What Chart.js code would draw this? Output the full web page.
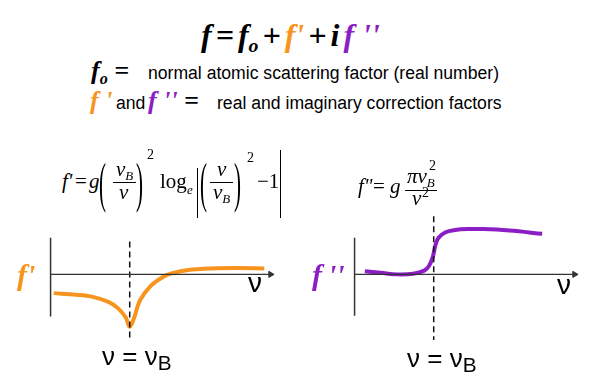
<!DOCTYPE html>
<html>
<head>
<meta charset="utf-8">
<script src="https://cdn.jsdelivr.net/npm/chart.js@4/dist/chart.umd.min.js"></script>
<style>
  body { margin: 0; width: 600px; height: 392px; background: #fff; position: relative; overflow: hidden; }
  .t { position: absolute; white-space: nowrap; line-height: 1; color: #000; }
  .serif { font-family: "Liberation Serif", "Times New Roman", serif; }
  .sans { font-family: "Liberation Sans", Arial, sans-serif; }
  .bi { font-weight: bold; font-style: italic; }
  .it { font-style: italic; }
  .hl { position: absolute; background: #000; }
  canvas { position: absolute; }
  .or { color: #F7941D; }
  .pu { color: #8B1EC4; }
</style>
</head>
<body>
<canvas id="fPrimeChart" width="287" height="160" style="left:6px;top:200px"></canvas>
<canvas id="fDoubleChart" width="287" height="160" style="left:310px;top:200px"></canvas>
<script>
// nu in units of the absorption edge nu_B, curve values in arbitrary units
var nuB = 1;
var fPrimeNu = [0.04, 0.32, 0.52, 0.73, 0.85, 0.95, 1.0, 1.05, 1.13, 1.26, 1.42, 1.54, 1.74, 2.03, 2.35, 2.70];
var fPrimeVal = [-2.0, -2.17, -2.37, -2.93, -3.6, -4.6, -5.6, -4.77, -2.77, -1.27, -0.27, 0.13, 0.47, 0.63, 0.67, 0.63];
var fDoubleNu = [0.13, 0.33, 0.54, 0.74, 0.88, 0.94, 0.99, 1.02, 1.06, 1.15, 1.27, 1.43, 1.63, 1.96, 2.37];
var fDoubleVal = [0.33, 0.17, 0, 0.07, 0.4, 0.9, 1.9, 3.07, 3.9, 4.5, 4.73, 4.83, 4.83, 4.67, 4.33];
var axisEndNu = 2.78;
var leftYAxis = [3.9, -4.5];
var rightYAxis = [3.9, -4.4];
var leftEdgeLine = [3.5, -7.0];
var rightEdgeLine = [6.2, -7.0];

function pts(xs, ys) {
  return xs.map(function (x, i) { return { x: x, y: ys[i] }; });
}

function makeChart(id, curveX, curveY, color, yAxis, edge) {
  var ctx = document.getElementById(id).getContext("2d");
  return new Chart(ctx, {
    type: "line",
    data: {
      datasets: [
        { data: [{ x: 0, y: yAxis[0] }, { x: 0, y: yAxis[1] }], borderColor: "#333", borderWidth: 1.5, tension: 0, clip: false },
        { data: [{ x: 0, y: 0 }, { x: axisEndNu, y: 0 }], borderColor: "#333", borderWidth: 1.2, tension: 0, clip: false },
        { data: [{ x: axisEndNu, y: 0 }], showLine: false, pointStyle: "triangle", rotation: 90, pointRadius: 3.5,
          backgroundColor: "#333", borderColor: "#333", borderWidth: 1, clip: false },
        { data: [{ x: nuB, y: edge[0] }, { x: nuB, y: edge[1] }], borderColor: "#111", borderWidth: 1.5,
          borderDash: [6, 4], tension: 0, clip: false },
        { data: pts(curveX, curveY), borderColor: color, borderWidth: 4, tension: 0.35,
          borderCapStyle: "butt", clip: false }
      ]
    },
    options: {
      responsive: false,
      animation: false,
      devicePixelRatio: 1,
      layout: { padding: 0 },
      elements: { point: { radius: 0 } },
      plugins: { legend: { display: false }, tooltip: { enabled: false } },
      scales: {
        x: { type: "linear", display: false, min: -0.5, max: 3.0 },
        y: { display: false, min: -8.6, max: 7.4 }
      }
    }
  });
}

makeChart("fPrimeChart", fPrimeNu, fPrimeVal, "#F7941D", leftYAxis, leftEdgeLine);
makeChart("fDoubleChart", fDoubleNu, fDoubleVal, "#8B1EC4", rightYAxis, rightEdgeLine);

// text placed by baseline
function T(html, x, base, size, cls, extra) {
  var d = document.createElement("div");
  d.className = "t " + cls;
  d.style.left = x + "px";
  d.style.top = (base - 0.84 * size) + "px";
  d.style.fontSize = size + "px";
  if (extra) d.style.cssText += extra;
  d.innerHTML = html;
  document.body.appendChild(d);
  return d;
}
function H(x, y, w) {
  var d = document.createElement("div");
  d.className = "hl";
  d.style.cssText = "left:" + x + "px;top:" + y + "px;width:" + w + "px;height:1px";
  document.body.appendChild(d);
}
function V(x, y1, y2) {
  var d = document.createElement("div");
  d.className = "hl";
  d.style.cssText = "left:" + x + "px;top:" + y1 + "px;width:1.3px;height:" + (y2 - y1) + "px";
  document.body.appendChild(d);
}
function paren(ch, x, cy, size) {
  return T(ch, x, cy + 0.3 * size, size, "serif", "transform:scaleY(2.6);transform-origin:50% " + (0.55 * size) + "px");
}

var sub = 'style="font-size:0.62em;position:relative;top:0.28em"';
var gap = '<span style="display:inline-block;width:4px"></span>';

// headline formula
T('f' + gap + '=' + gap + 'f<span ' + sub + '>o</span>' + gap + '+' + gap + '<span class="or">f\'</span>' + gap + '+' + gap + 'i' + gap + '<span class="pu">f \'\'</span>',
  201, 46, 32, "serif bi");

// definitions
T('f<span ' + sub + '>o</span> =', 91, 80, 26, "serif bi");
T("normal atomic scattering factor (real number)", 148, 80, 17.6, "sans");
T('<span class="or">f \'</span>', 90, 110, 26, "serif bi");
T("and", 116, 110, 17.6, "sans");
T('<span class="pu">f \'\'</span> =', 148, 110, 26, "serif bi");
T("real and imaginary correction factors", 217, 110, 17.6, "sans");

// f' formula
T("f'", 62, 189, 21, "serif it");
T("=", 75, 189, 21, "serif");
T("g", 89, 189, 21, "serif it");
paren("(", 99, 186, 21);
T('&nu;<span ' + sub + '>B</span>', 116, 177, 21, "serif it");
H(113, 182, 23);
T("&nu;", 119, 200, 21, "serif it");
paren(")", 136, 186, 21);
T("2", 147, 160, 14, "serif");
T("log", 160, 189, 21, "serif");
T("e", 187, 194, 13, "serif it");
V(197, 168, 218);
paren("(", 200, 186, 21);
T("&nu;", 217, 177, 21, "serif it");
H(210, 182, 23);
T('&nu;<span ' + sub + '>B</span>', 213, 200, 21, "serif it");
paren(")", 234, 186, 21);
T("2", 247, 163, 14, "serif");
T("&minus;1", 257, 189, 21, "serif");
V(280, 150, 218);

// f'' formula
T("f\"", 358, 194, 21, "serif it");
T("=", 373, 194, 21, "serif");
T("g", 390, 194, 21, "serif it");
T('&pi;&nu;<span ' + sub + '>B</span>', 407, 184, 21, "serif it");
T("2", 429, 171, 14, "serif");
H(405, 190, 32);
T("&nu;", 412, 206, 21, "serif it");
T("2", 422, 198, 14, "serif");

// axis labels
T("f'", 17, 285, 30, "serif bi or");
T("f\u2009''", 312, 285, 30, "serif bi pu");
T("&nu;", 248, 293, 28, "sans");
T("&nu;", 557, 295, 28, "sans");
T('&nu; = &nu;<span style="font-size:0.8em;position:relative;top:0.25em">B</span>', 102, 365, 26, "sans");
T('&nu; = &nu;<span style="font-size:0.8em;position:relative;top:0.25em">B</span>', 407, 367, 26, "sans");
</script>
</body>
</html>
